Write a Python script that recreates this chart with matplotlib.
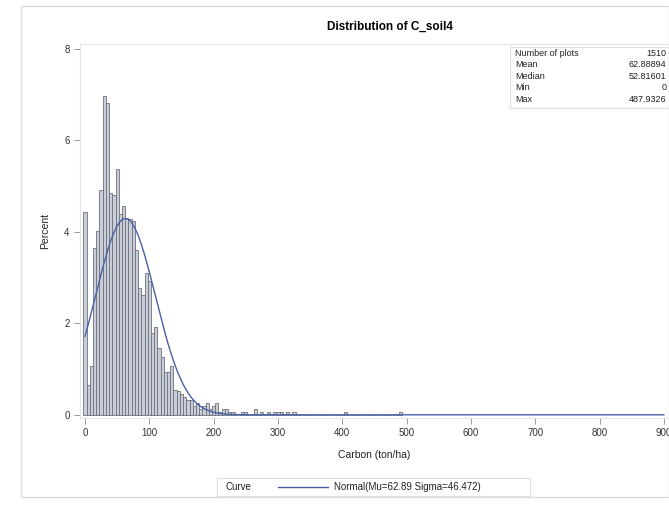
import numpy as np
import matplotlib.pyplot as plt
from matplotlib.patches import Rectangle
from matplotlib.lines import Line2D

plt.rcParams['font.family'] = ['Liberation Sans', 'DejaVu Sans']

# histogram: bin width 5, first midpoint 0 (percent of plots per bin)
bin_width = 5
pct = [4.43, 0.66, 1.06, 3.64, 4.03, 4.91, 6.97, 6.83, 4.85, 4.80,
       5.37, 4.40, 4.57, 4.30, 4.28, 4.23, 3.60, 2.78, 2.63, 3.10,
       2.93, 1.79, 1.92, 1.46, 1.26, 0.93, 0.93, 1.06, 0.55, 0.53,
       0.46, 0.40, 0.33, 0.33, 0.20, 0.26, 0.13, 0.20, 0.26, 0.13,
       0.20, 0.26, 0.07, 0.13, 0.13, 0.07, 0.07, 0, 0, 0.07,
       0.07, 0, 0, 0.13, 0, 0.07, 0, 0.07, 0, 0.07,
       0.07, 0.07, 0, 0.07, 0, 0.07, 0, 0, 0, 0,
       0, 0, 0, 0, 0, 0, 0, 0, 0, 0,
       0, 0.07, 0, 0, 0, 0, 0, 0, 0, 0,
       0, 0, 0, 0, 0, 0, 0, 0, 0.07]

mu, sigma = 62.89, 46.472
stat_names = ["Number of plots", "Mean", "Median", "Min", "Max"]
stat_vals = ["1510", "62.88894", "52.81601", "0", "487.9326"]
xticks = [0, 100, 200, 300, 400, 500, 600, 700, 800, 900]
yticks = [0, 2, 4, 6, 8]

fig = plt.figure(figsize=(6.69, 5.05), dpi=100)
W, H = 669, 505
ax = fig.add_axes([80 / W, 1 - 418 / H, (669 - 80) / W, (418 - 44) / H])

mids = np.arange(len(pct)) * bin_width
ax.bar(mids, pct, width=bin_width, color='#c8cdd8', edgecolor='#6b707c', linewidth=0.6)

xs = np.linspace(0, 900, 600)
curve = 100 * bin_width * np.exp(-0.5 * ((xs - mu) / sigma) ** 2) / (sigma * np.sqrt(2 * np.pi))
ax.plot(xs, curve, color='#4a5fa8', lw=1.0)

ax.set_xlim(-7.8, 908)
ax.set_ylim(-0.07, 8.11)
ax.set_xticks(xticks)
ax.set_yticks(yticks)
ax.tick_params(labelsize=7, length=4, color='#888888', labelcolor='#333333', width=0.6)
for s in ax.spines.values():
    s.set_color('#e4e4e4')
    s.set_linewidth(0.8)
ax.set_xlabel("Carbon (ton/ha)", fontsize=7.5, color='#222222', labelpad=8)
ax.set_ylabel("Percent", fontsize=7.5, color='#222222', labelpad=10)

# stats table
tab = ax.inset_axes([510 / W * 0 + (510 - 80) / (669 - 80), 1 - (108 - 44) / (418 - 44),
                     (669 - 510) / (669 - 80), (108 - 47) / (418 - 44)])
tab.set_xticks([])
tab.set_yticks([])
for s in tab.spines.values():
    s.set_color('#e0e0e0')
tab.set_xlim(0, 1)
tab.set_ylim(0, 1)
for i, (n, v) in enumerate(zip(stat_names, stat_vals)):
    y = 0.9 - i * 0.19
    tab.text(0.03, y, n, fontsize=6.5, va='center', color='#222222')
    tab.text(0.985, y, v, fontsize=6.5, va='center', ha='right', color='#222222')

fig.text(390 / W, 1 - 27 / H, "Distribution of C_soil4", ha='center', va='center',
         fontsize=8.5, fontweight='bold')

# outer border
fig.patches.append(Rectangle((21 / W, 1 - 497 / H), (669 - 21) / W, (497 - 6) / H,
                             transform=fig.transFigure, fill=False, ec='#dcdcdc', lw=1.0))

# legend box
fig.patches.append(Rectangle((217 / W, 1 - 496 / H), (530 - 217) / W, 18 / H,
                             transform=fig.transFigure, fill=False, ec='#e0e0e0', lw=0.8))
fig.text(225 / W, 1 - 487 / H, "Curve", fontsize=7, va='center', color='#222222')
fig.lines.append(Line2D([278 / W, 328 / W], [1 - 487 / H, 1 - 487 / H],
                        transform=fig.transFigure, color='#4a5fa8', lw=1.0))
fig.text(334 / W, 1 - 487 / H, "Normal(Mu=62.89 Sigma=46.472)", fontsize=7,
         va='center', color='#222222')

fig.savefig("out.png", dpi=100)
